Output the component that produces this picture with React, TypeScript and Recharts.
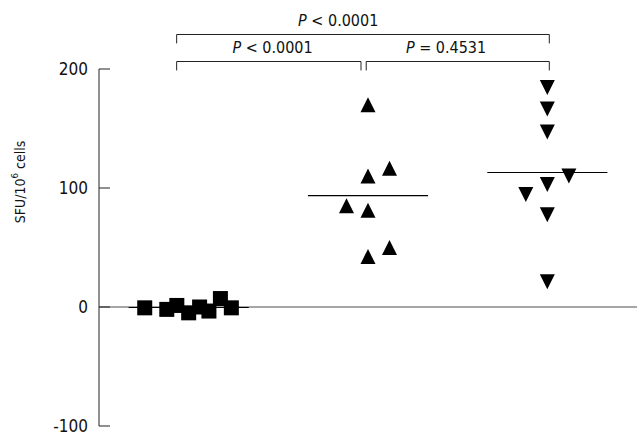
import React from 'react';
import { ScatterChart, Scatter, XAxis, YAxis, ReferenceLine, ReferenceDot } from 'recharts';

const CATEGORIES = ['Saline', 'Plasmid', 'Pla/Pro'];
const Y_TICKS = [-100, 0, 100, 200];

// SFU per 10^6 cells; jitter is the horizontal spread within a group
const SALINE = [-0.7, -2, 1.3, -4.9, 0, -3.4, 7.1, -0.7];
const SALINE_JITTER = [-0.245, -0.122, -0.066, 0, 0.061, 0.113, 0.177, 0.238];
const PLASMID = [170, 110, 116.5, 85, 81.3, 50, 42.5];
const PLASMID_JITTER = [0, 0, 0.12, -0.12, 0, 0.12, 0];
const PLAPRO = [184.4, 166.4, 147.1, 110.1, 103, 94.6, 77.5, 21.2];
const PLAPRO_JITTER = [0, 0, 0, 0.12, 0, -0.12, 0, 0];

const P_VALUES = ['< 0.0001', '= 0.4531', '< 0.0001'];

const W = 637;
const H = 436;
const LEFT = 99;
const TOP = 69;
const BOTTOM = 10;
const PLOT_H = H - TOP - BOTTOM;
const ZERO_Y = TOP + (PLOT_H * 200) / 300;
const FONT = '"DejaVu Sans Condensed", "DejaVu Sans", sans-serif';

// bracket geometry (x in category units, y in value units)
const BRACKETS = [
  { x1: 0.933, x2: 1.961, y: 206.3, labelX: 1.4675 },
  { x1: 1.99, x2: 3.011, y: 206.3, labelX: 2.435 },
  { x1: 0.933, x2: 3.011, y: 229, labelX: 1.834 },
];
const LEG = 7.5;
const MEAN_HALF = 0.335;

const toPoints = (values: number[], jitter: number[], cat: number) =>
  values.map((v, i) => ({ x: cat + jitter[i], y: v }));

const mean = (values: number[]) => values.reduce((a, b) => a + b, 0) / values.length;

const groups = [
  { name: 'Saline', values: SALINE, points: toPoints(SALINE, SALINE_JITTER, 1) },
  { name: 'Plasmid', values: PLASMID, points: toPoints(PLASMID, PLASMID_JITTER, 2) },
  { name: 'Pla/Pro', values: PLAPRO, points: toPoints(PLAPRO, PLAPRO_JITTER, 3) },
];

const Square = (props: any) => {
  const { cx, cy } = props;
  return <rect x={cx - 7.5} y={cy - 7.5} width={15} height={15} fill="#000" />;
};

const TriUp = (props: any) => {
  const { cx, cy } = props;
  return <polygon points={`${cx - 7.5},${cy + 7.5} ${cx + 7.5},${cy + 7.5} ${cx},${cy - 7.5}`} fill="#000" />;
};

const TriDown = (props: any) => {
  const { cx, cy } = props;
  return <polygon points={`${cx - 7.5},${cy - 7.5} ${cx + 7.5},${cy - 7.5} ${cx},${cy + 7.5}`} fill="#000" />;
};

const YTick = (props: any) => {
  const { x, y, payload } = props;
  return (
    <g>
      <line x1={x} x2={x + 11} y1={y} y2={y} stroke="#222" />
      <text x={x - 11} y={y} dy="0.36em" textAnchor="end" fontSize={17} fontFamily={FONT} fill="#111">
        {payload.value}
      </text>
    </g>
  );
};

const XTick = (props: any) => {
  const { x, payload } = props;
  return (
    <g>
      <line x1={x} x2={x} y1={ZERO_Y - 10.5} y2={ZERO_Y} stroke="#222" />
      <text x={x} y={ZERO_Y + 34} textAnchor="middle" fontSize={17} fontFamily={FONT} fill="#111">
        {CATEGORIES[payload.value - 1]}
      </text>
    </g>
  );
};

const YLabel = () => (
  <text
    x={20}
    y={182}
    transform="rotate(-90, 20, 182)"
    textAnchor="middle"
    dominantBaseline="central"
    fontSize={14}
    fontFamily={FONT}
    fill="#111"
  >
    <tspan>SFU/10</tspan>
    <tspan dy={-6} fontSize={9.5}>6</tspan>
    <tspan dy={6}> cells</tspan>
  </text>
);

const PLabel = (text: string) => (props: any) => {
  const { cx, cy } = props;
  return (
    <text x={cx} y={cy - 8.5} textAnchor="middle" fontSize={16} fontFamily={FONT} fill="#111">
      <tspan fontStyle="italic">P</tspan>
      {' ' + text}
    </text>
  );
};

const App: React.FC = () => {
  return (
    <div style={{ position: 'absolute', left: 0, top: 0, background: '#fff' }}>
      <ScatterChart width={W} height={H} margin={{ top: TOP, right: 0, bottom: BOTTOM, left: 0 }}>
        <XAxis
          type="number"
          dataKey="x"
          domain={[0.5, 3.5]}
          ticks={[1, 2, 3]}
          axisLine={false}
          tickLine={false}
          height={0}
          tick={<XTick />}
          allowDataOverflow
        />
        <YAxis
          type="number"
          dataKey="y"
          domain={[-100, 200]}
          ticks={Y_TICKS}
          width={LEFT}
          tickSize={0}
          tickMargin={0}
          tickLine={false}
          axisLine={{ stroke: '#222' }}
          tick={<YTick />}
          label={<YLabel />}
        />
        <ReferenceLine y={0} stroke="#888" strokeWidth={1.5} />
        {groups.map((g, i) => (
          <ReferenceLine
            key={`mean-${g.name}`}
            segment={[
              { x: i + 1 - MEAN_HALF, y: mean(g.values) },
              { x: i + 1 + MEAN_HALF, y: mean(g.values) },
            ]}
            stroke="#000"
            strokeWidth={1.2}
          />
        ))}
        {BRACKETS.map((b, i) => (
          <ReferenceLine
            key={`br-${i}`}
            segment={[
              { x: b.x1, y: b.y - LEG },
              { x: b.x1, y: b.y },
            ]}
            stroke="#222"
            ifOverflow="visible"
          />
        ))}
        {BRACKETS.map((b, i) => (
          <ReferenceLine
            key={`bt-${i}`}
            segment={[
              { x: b.x1, y: b.y },
              { x: b.x2, y: b.y },
            ]}
            stroke="#222"
            ifOverflow="visible"
          />
        ))}
        {BRACKETS.map((b, i) => (
          <ReferenceLine
            key={`bl-${i}`}
            segment={[
              { x: b.x2, y: b.y },
              { x: b.x2, y: b.y - LEG },
            ]}
            stroke="#222"
            ifOverflow="visible"
          />
        ))}
        {BRACKETS.map((b, i) => (
          <ReferenceDot key={`pl-${i}`} x={b.labelX} y={b.y} r={0} ifOverflow="visible" shape={PLabel(P_VALUES[i])} />
        ))}
        <Scatter name="Saline" data={groups[0].points} shape={<Square />} isAnimationActive={false} />
        <Scatter name="Plasmid" data={groups[1].points} shape={<TriUp />} isAnimationActive={false} />
        <Scatter name="Pla/Pro" data={groups[2].points} shape={<TriDown />} isAnimationActive={false} />
      </ScatterChart>
    </div>
  );
};

export default App;
